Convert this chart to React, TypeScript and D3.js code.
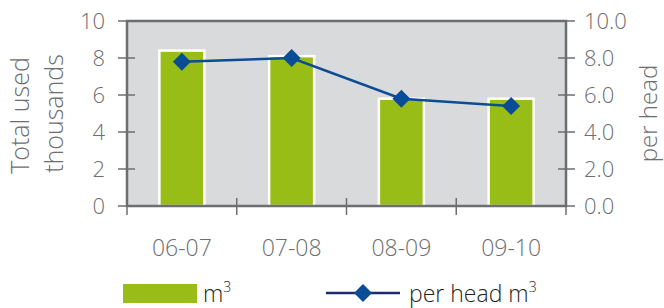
import * as d3 from 'd3';

const categories = ['06-07', '07-08', '08-09', '09-10'];
const totalUsed = [8.4, 8.1, 5.8, 5.8];
const perHead = [7.8, 8.0, 5.8, 5.4];
const leftTicks = [0, 2, 4, 6, 8, 10];
const rightTicks = [0, 2, 4, 6, 8, 10];

const W = 664;
const H = 308;
const plot = { left: 127, right: 566, top: 21, bottom: 206 };
const FONT = '"Open Sans", "Liberation Sans", Arial, sans-serif';
const AXIS = '#6d6e70';
const TEXT = '#6d6e70';

export default function App() {
  const x = d3.scaleBand<string>().domain(categories).range([plot.left, plot.right]);
  const y = d3.scaleLinear().domain([0, 10]).range([plot.bottom, plot.top]);
  const y2 = d3.scaleLinear().domain([0, 10]).range([plot.bottom, plot.top]);
  const fmt2 = d3.format('.1f');

  const barW = x.bandwidth() * 0.41;
  const cx = (c: string) => (x(c) as number) + x.bandwidth() / 2;

  const line = d3.line<number>()
    .x((_, i) => cx(categories[i]))
    .y(d => y2(d));

  const diamond = (px: number, py: number, r: number) =>
    `M${px},${py - r}L${px + r},${py}L${px},${py + r}L${px - r},${py}Z`;

  const xTicks = [...categories.map(c => x(c) as number), plot.right];

  return (
    <svg width={W} height={H} style={{ position: 'absolute', left: 0, top: 0 }} fontFamily={FONT}>
      <rect x={plot.left} y={plot.top} width={plot.right - plot.left} height={plot.bottom - plot.top} fill="#d9dadc" />

      {/* bars */}
      {categories.map((c, i) => (
        <rect key={c} x={cx(c) - barW / 2} y={y(totalUsed[i])} width={barW}
          height={plot.bottom - y(totalUsed[i])} fill="#98bd17" stroke="#ffffff" strokeWidth={2.5} />
      ))}

      {/* frame */}
      <rect x={plot.left} y={plot.top} width={plot.right - plot.left} height={plot.bottom - plot.top}
        fill="none" stroke={AXIS} strokeWidth={2.5} />

      {/* left axis ticks */}
      {leftTicks.map(t => (
        <g key={'l' + t}>
          <line x1={plot.left - 9} x2={plot.left + 8} y1={y(t)} y2={y(t)} stroke={AXIS} strokeWidth={1.5} />
          <text x={105} y={y(t)} dy="0.36em" textAnchor="end" fontSize={22} fontWeight={300} fill={TEXT}>{t}</text>
        </g>
      ))}

      {/* right axis ticks */}
      {rightTicks.map(t => (
        <g key={'r' + t}>
          <line x1={plot.right - 8} x2={plot.right + 9} y1={y2(t)} y2={y2(t)} stroke={AXIS} strokeWidth={1.5} />
          <text x={584} y={y2(t)} dy="0.36em" textAnchor="start" fontSize={22} fontWeight={300} fill={TEXT}>{fmt2(t)}</text>
        </g>
      ))}

      {/* bottom ticks */}
      {xTicks.map((t, i) => (
        <line key={'x' + i} x1={t} x2={t} y1={plot.bottom - 8} y2={plot.bottom + 9} stroke={AXIS} strokeWidth={1.5} />
      ))}
      {categories.map(c => (
        <text key={'xl' + c} x={cx(c)} y={256} textAnchor="middle" fontSize={23} fontWeight={300} fill={TEXT}>{c}</text>
      ))}

      {/* axis titles */}
      <text transform={`translate(29,${(plot.top + plot.bottom) / 2 + 2}) rotate(-90)`} textAnchor="middle"
        fontSize={25} fontWeight={300} fill={TEXT}>Total used</text>
      <text transform={`translate(63,${(plot.top + plot.bottom) / 2}) rotate(-90)`} textAnchor="middle"
        fontSize={25} fontWeight={300} fill={TEXT}>thousands</text>
      <text transform={`translate(657,${(plot.top + plot.bottom) / 2}) rotate(-90)`} textAnchor="middle"
        fontSize={24} fontWeight={300} fill={TEXT}>per head</text>

      {/* line series */}
      <path d={line(perHead) ?? ''} fill="none" stroke="#0a4d94" strokeWidth={2.5} />
      {perHead.map((v, i) => (
        <path key={'d' + i} d={diamond(cx(categories[i]), y2(v), 9)} fill="#0a4d94" />
      ))}

      {/* legend */}
      <rect x={123} y={284} width={74} height={19} fill="#98bd17" />
      <text x={203} y={302} fontSize={23} fontWeight={300} fill="#231f20">
        m<tspan fontSize={14} dy={-10}>3</tspan>
      </text>
      <line x1={326} x2={400} y1={293} y2={293} stroke="#1e2a6e" strokeWidth={2.5} />
      <path d={diamond(363, 293, 9)} fill="#0a4d94" />
      <text x={409} y={302} fontSize={23} fontWeight={300} fill="#231f20">
        per head m<tspan fontSize={14} dy={-10}>3</tspan>
      </text>
    </svg>
  );
}
